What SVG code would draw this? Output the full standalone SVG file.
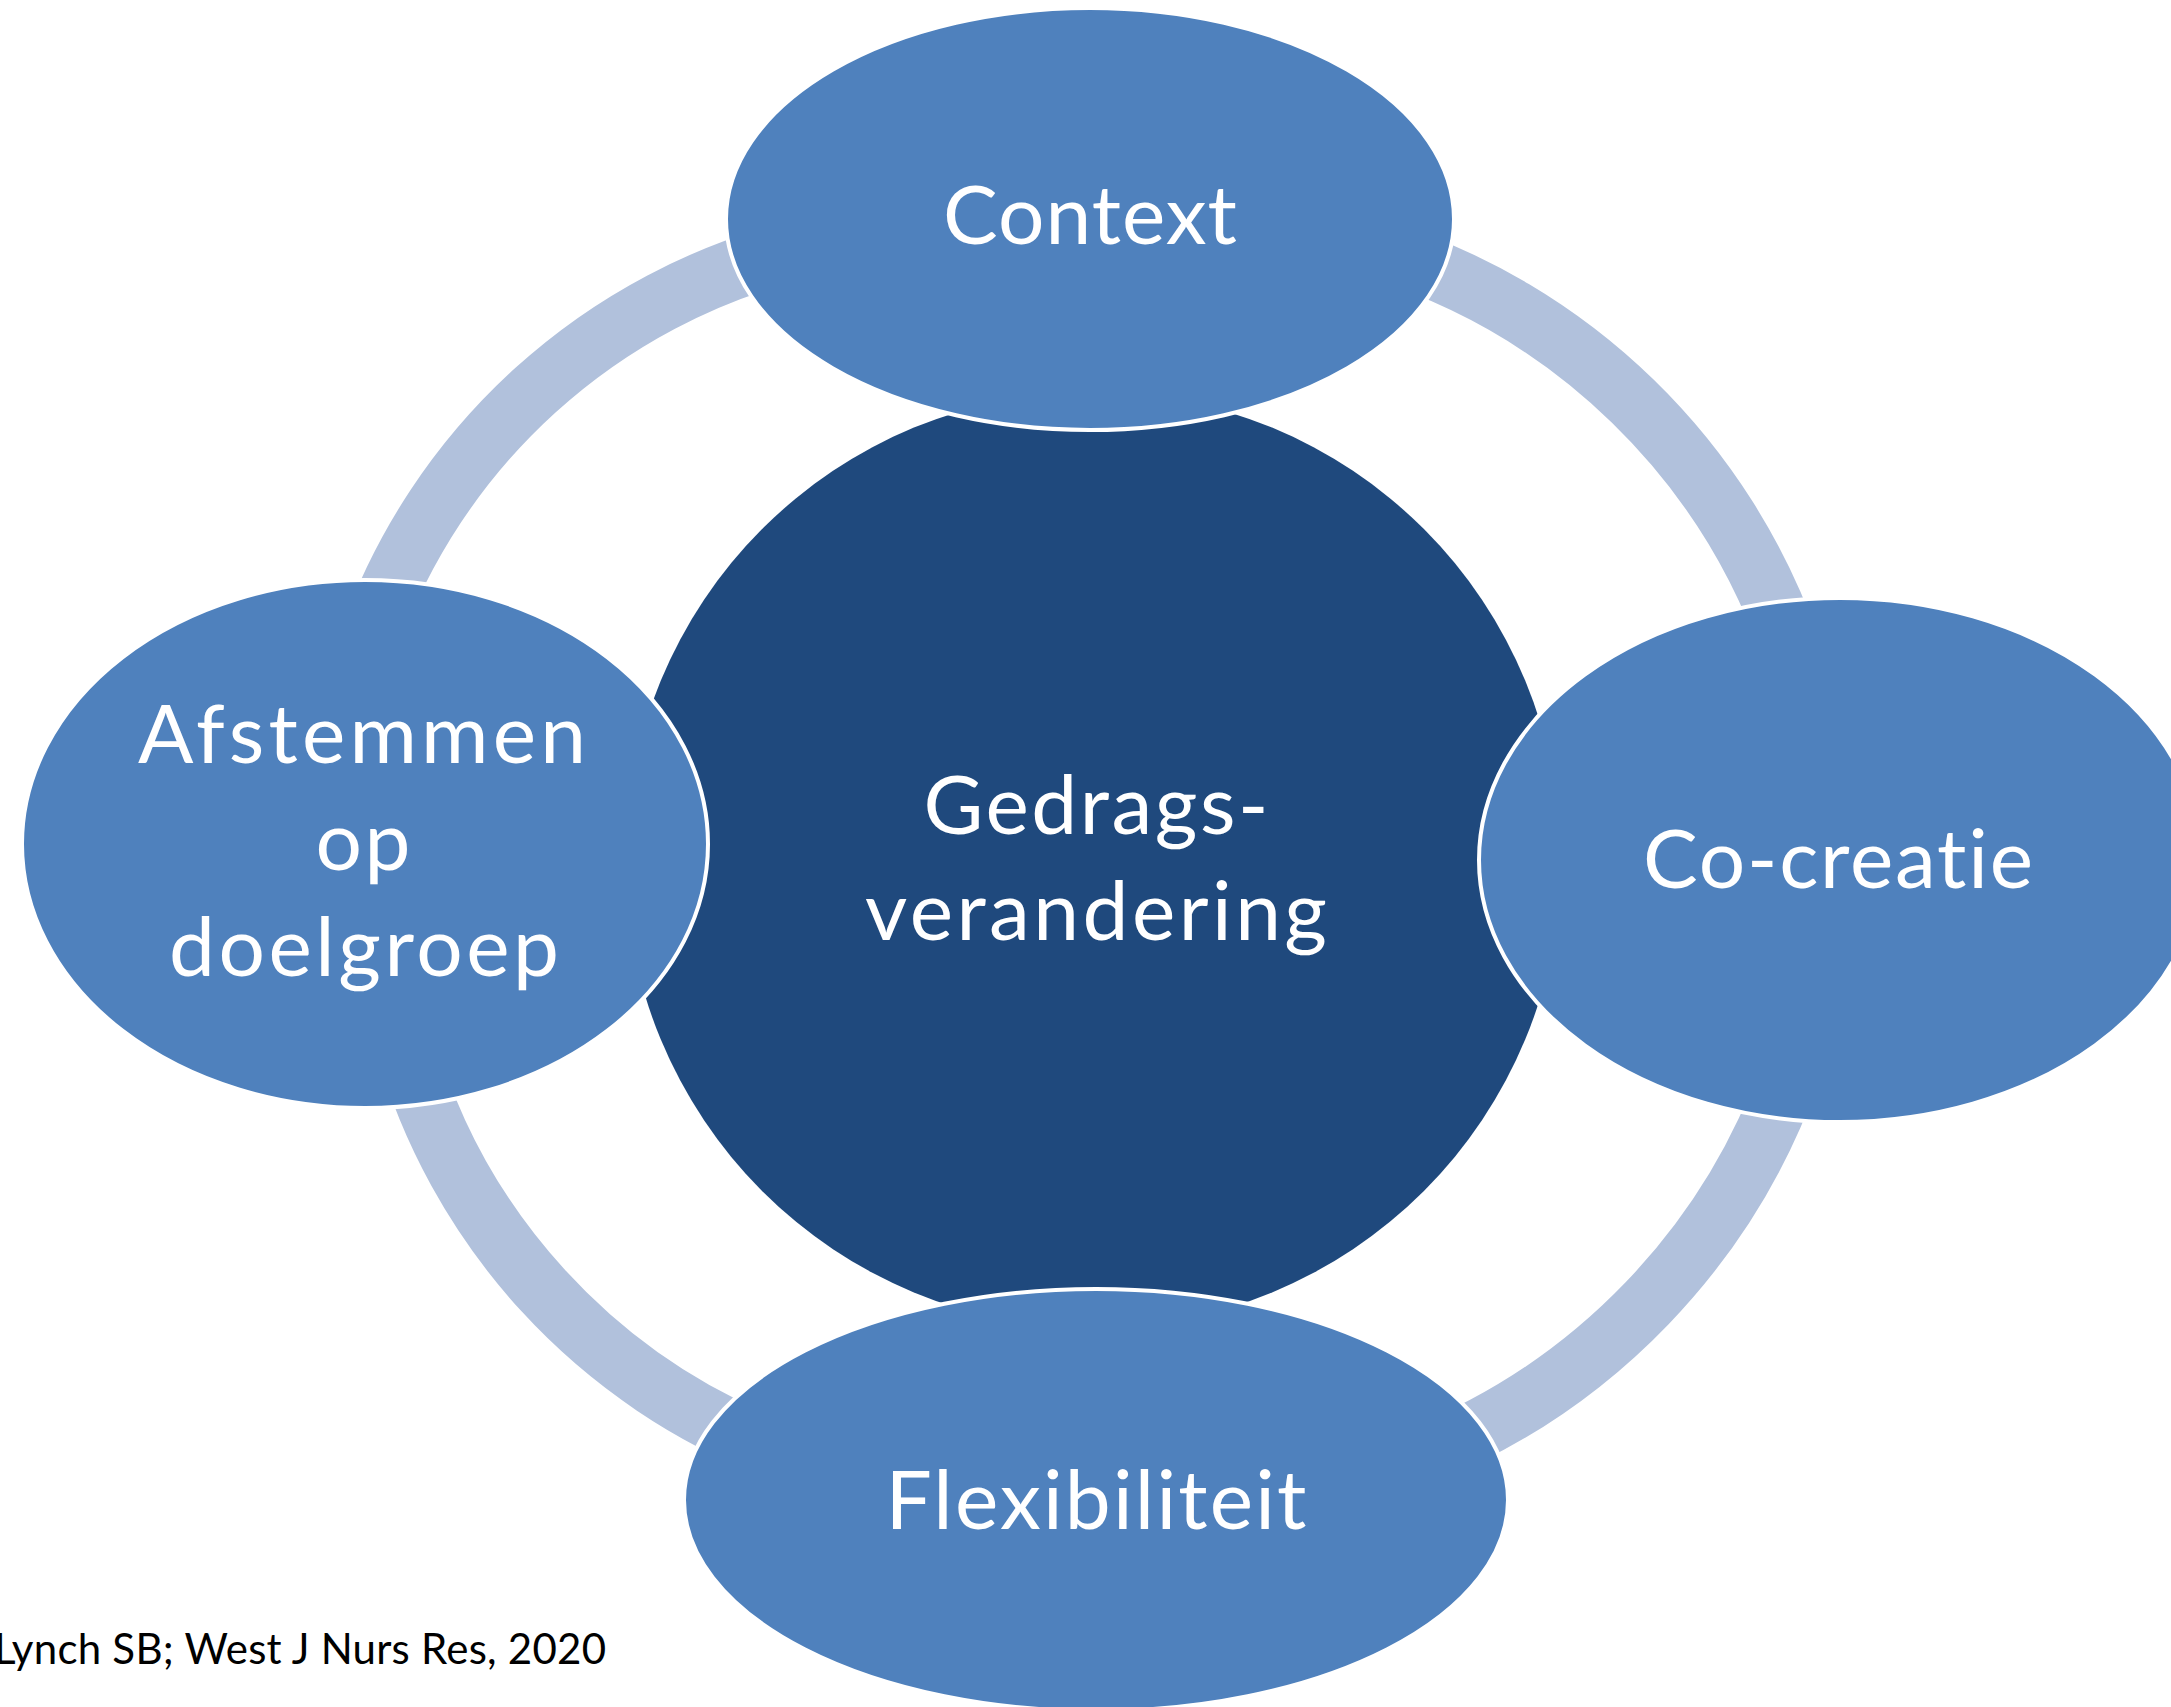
<svg xmlns="http://www.w3.org/2000/svg" width="2171" height="1707" viewBox="0 0 2171 1707">
<style>
.band{fill:none;stroke:#B1C1DC;stroke-width:60;stroke-linecap:butt}
.node{fill:#4F81BD;stroke:#FFFFFF;stroke-width:4}
.core{fill:#1F497D}
.lbl{font-family:Lato,"Open Sans","Liberation Sans",sans-serif;font-size:82px;fill:#FFFFFF;text-anchor:middle;font-variant-ligatures:none;font-feature-settings:"liga" 0,"clig" 0}
.cite{font-family:Lato,"Open Sans","Liberation Sans",sans-serif;font-size:42px;fill:#000000;font-variant-ligatures:none}
</style>
<rect x="0" y="0" width="2171" height="1707" fill="#FFFFFF"/>
<g id="connectors">
<path class="band" d="M369,640 A615,615 0 0 1 800,249"/>
<path class="band" d="M1380,250 A639,639 0 0 1 1791,650"/>
<path class="band" d="M1791,1070 A648,648 0 0 1 1420,1456"/>
<path class="band" d="M780,1451 A617,617 0 0 1 404,1040"/>
</g>
<g id="center">
<circle class="core" cx="1093" cy="860" r="468"/>
<text class="lbl" x="1096" y="834" textLength="345" lengthAdjust="spacing">Gedrags-</text>
<text class="lbl" x="1096" y="940" textLength="462" lengthAdjust="spacing">verandering</text>
</g>
<g id="context">
<ellipse class="node" cx="1090" cy="219" rx="364" ry="211"/>
<text class="lbl" x="1090" y="244" textLength="294" lengthAdjust="spacing">Context</text>
</g>
<g id="cocreatie">
<ellipse class="node" cx="1840" cy="860" rx="361" ry="262"/>
<text class="lbl" x="1838" y="888" textLength="390" lengthAdjust="spacing">Co-creatie</text>
</g>
<g id="flexibiliteit">
<ellipse class="node" cx="1096" cy="1500" rx="412" ry="211"/>
<text class="lbl" x="1096" y="1529" textLength="421" lengthAdjust="spacing">Flexibiliteit</text>
</g>
<g id="afstemmen">
<ellipse class="node" cx="365" cy="844" rx="343" ry="264"/>
<text class="lbl" x="362" y="763" textLength="448" lengthAdjust="spacing">Afstemmen</text>
<text class="lbl" x="363" y="870" textLength="95" lengthAdjust="spacing">op</text>
<text class="lbl" x="364" y="976" textLength="390" lengthAdjust="spacing">doelgroep</text>
</g>
<text class="cite" x="-6" y="1664" textLength="612" lengthAdjust="spacing">Lynch SB; West J Nurs Res, 2020</text>
</svg>
